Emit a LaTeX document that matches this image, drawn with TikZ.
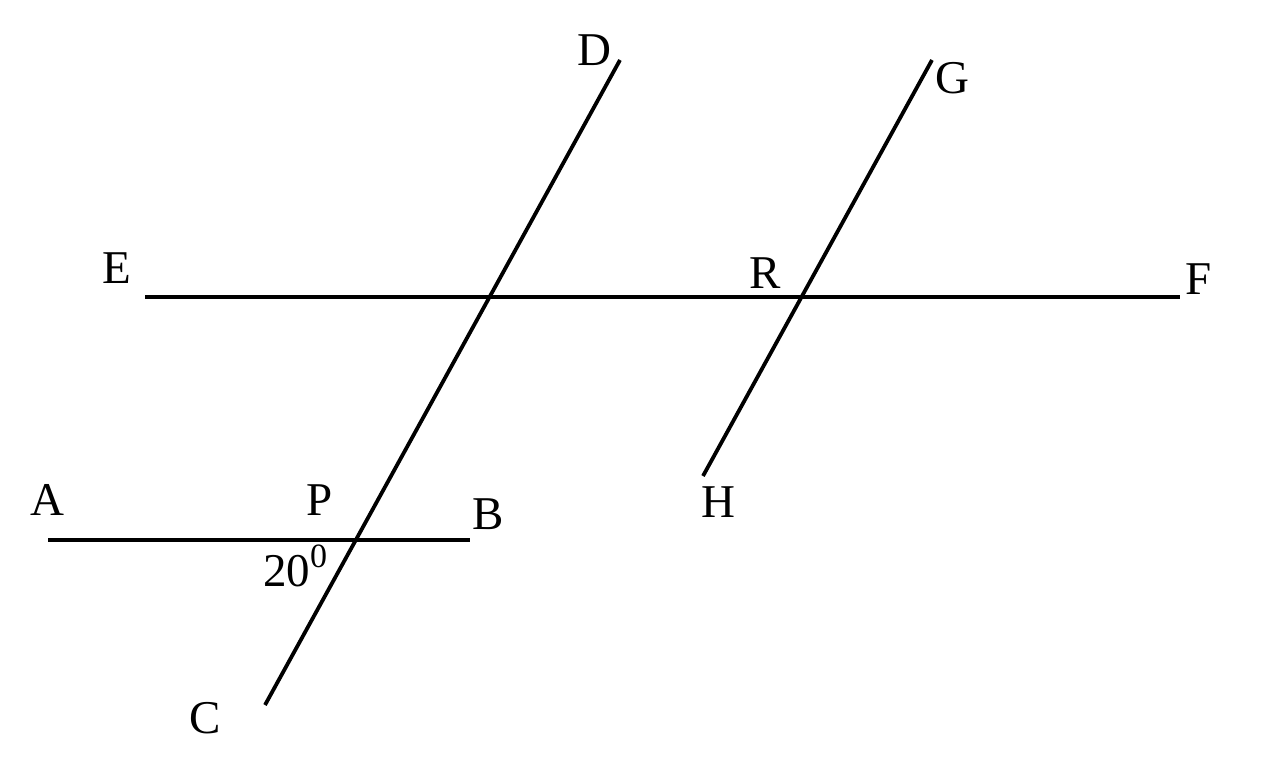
\documentclass[tikz,border=0pt]{standalone}
\usepackage{fontspec}
\setmainfont{Liberation Serif}
\usepackage{tikz}

\begin{document}
\begin{tikzpicture}[x=0.5pt,y=-0.5pt,
    line/.style={line width=1.9pt},
    lbl/.style={font=\fontsize{23.5}{28}\selectfont, inner sep=0pt}]
    \useasboundingbox (0,0) rectangle (1263,771);

    % Концы отрезков
    \coordinate (A0) at (48,540);
    \coordinate (B0) at (470,540);
    \coordinate (C0) at (265,705);
    \coordinate (D0) at (620,60);
    \coordinate (E0) at (145,297);
    \coordinate (F0) at (1180,297);
    \coordinate (G0) at (932,60);
    \coordinate (H0) at (703,476);

    % Прямые
    \draw[line] (A0) -- (B0);
    \draw[line] (C0) -- (D0);
    \draw[line] (E0) -- (F0);
    \draw[line] (H0) -- (G0);

    % Подписи
    \node[lbl] (A) at (47,500) {A};
    \node[lbl] (P) at (320,500) {P};
    \node[lbl] (B) at (488,514) {B};
    \node[lbl] (C) at (205,718) {C};
    \node[lbl] (D) at (594,50) {D};
    \node[lbl] (E) at (117,268) {E};
    \node[lbl] (R) at (765,273) {R};
    \node[lbl] (F) at (1199,279) {F};
    \node[lbl] (G) at (952,78) {G};
    \node[lbl] (H) at (718,502) {H};
    \node[lbl] (ang) at (295,566) {20\raisebox{0.42em}{\fontsize{17}{20}\selectfont 0}};

\end{tikzpicture}
\end{document}
